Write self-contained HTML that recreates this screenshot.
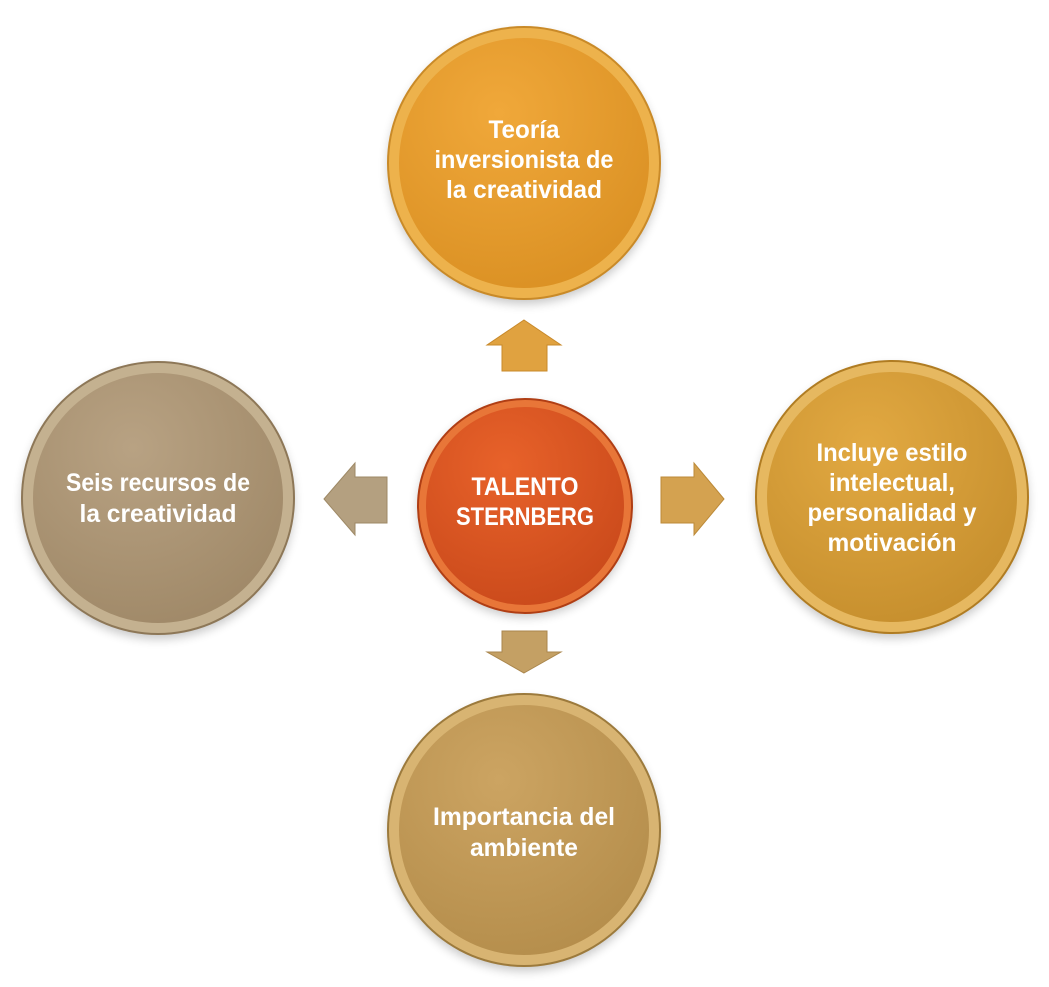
<!DOCTYPE html>
<html><head><meta charset="utf-8"><style>
html,body{margin:0;padding:0;background:#fff;}
svg{display:block;}
text{font-family:"Liberation Sans",sans-serif;font-weight:bold;fill:#fff;text-anchor:middle;dominant-baseline:central;font-size:25px;}
</style></head><body>
<svg width="1049" height="987" viewBox="0 0 1049 987" xmlns="http://www.w3.org/2000/svg">
<defs>
<filter id="sh" x="-20%" y="-20%" width="140%" height="140%"><feGaussianBlur stdDeviation="5"/></filter>
<radialGradient id="gTop" cx="0.4" cy="0.3" r="0.8"><stop offset="0" stop-color="#F0A83A"/><stop offset="1" stop-color="#D98F22"/></radialGradient>
<radialGradient id="gLeft" cx="0.4" cy="0.3" r="0.8"><stop offset="0" stop-color="#B8A283"/><stop offset="1" stop-color="#9E8766"/></radialGradient>
<radialGradient id="gRight" cx="0.4" cy="0.3" r="0.8"><stop offset="0" stop-color="#E2A942"/><stop offset="1" stop-color="#C48D2C"/></radialGradient>
<radialGradient id="gBot" cx="0.4" cy="0.3" r="0.8"><stop offset="0" stop-color="#CCA462"/><stop offset="1" stop-color="#B38C4A"/></radialGradient>
<radialGradient id="gCen" cx="0.4" cy="0.3" r="0.8"><stop offset="0" stop-color="#E8622A"/><stop offset="1" stop-color="#C8481A"/></radialGradient>
</defs>

<g fill="#000" opacity="0.22" filter="url(#sh)">
<circle cx="524" cy="168" r="136"/>
<circle cx="158" cy="503" r="136"/>
<circle cx="892" cy="502" r="136"/>
<circle cx="524" cy="835" r="136"/>
<circle cx="525" cy="510" r="107"/>
</g>

<g>
<circle cx="524" cy="163" r="137" fill="#C98A28"/>
<circle cx="524" cy="163" r="135" fill="#EDB24C"/>
<circle cx="524" cy="163" r="125" fill="url(#gTop)"/>

<circle cx="158" cy="498" r="137" fill="#8D7757"/>
<circle cx="158" cy="498" r="135" fill="#C4B190"/>
<circle cx="158" cy="498" r="125" fill="url(#gLeft)"/>

<circle cx="892" cy="497" r="137" fill="#B07C22"/>
<circle cx="892" cy="497" r="135" fill="#E6B860"/>
<circle cx="892" cy="497" r="125" fill="url(#gRight)"/>

<circle cx="524" cy="830" r="137" fill="#9C7A3C"/>
<circle cx="524" cy="830" r="135" fill="#D8B472"/>
<circle cx="524" cy="830" r="125" fill="url(#gBot)"/>

<circle cx="525" cy="506" r="108" fill="#B03E14"/>
<circle cx="525" cy="506" r="106" fill="#E87638"/>
<circle cx="525" cy="506" r="99" fill="url(#gCen)"/>
</g>

<polygon points="524,320 561,345 547,345 547,371 502,371 502,345 487,345" fill="#E0A240" stroke="#C8892A" stroke-width="1"/>
<polygon points="324,499 355,463 355,477 387,477 387,523 355,523 355,535" fill="#B4A080" stroke="#9E8966" stroke-width="1"/>
<polygon points="724,499 694,463 694,477 661,477 661,523 694,523 694,535" fill="#D4A250" stroke="#BC8A38" stroke-width="1"/>
<polygon points="524,673 561,652 547,652 547,631 502,631 502,652 487,652" fill="#C4A064" stroke="#AA864C" stroke-width="1"/>

<text x="524" y="130" textLength="71" lengthAdjust="spacingAndGlyphs">Teoría</text>
<text x="524" y="160" textLength="179" lengthAdjust="spacingAndGlyphs">inversionista de</text>
<text x="524" y="190" textLength="156" lengthAdjust="spacingAndGlyphs">la creatividad</text>

<text x="158" y="483" textLength="184" lengthAdjust="spacingAndGlyphs">Seis recursos de</text>
<text x="158" y="514" textLength="157" lengthAdjust="spacingAndGlyphs">la creatividad</text>

<text x="892" y="453" textLength="151" lengthAdjust="spacingAndGlyphs">Incluye estilo</text>
<text x="892" y="483" textLength="126" lengthAdjust="spacingAndGlyphs">intelectual,</text>
<text x="892" y="513" textLength="169" lengthAdjust="spacingAndGlyphs">personalidad y</text>
<text x="892" y="543" textLength="129" lengthAdjust="spacingAndGlyphs">motivación</text>

<text x="524" y="817" textLength="182" lengthAdjust="spacingAndGlyphs">Importancia del</text>
<text x="524" y="848" textLength="108" lengthAdjust="spacingAndGlyphs">ambiente</text>

<text x="525" y="487" textLength="107" lengthAdjust="spacingAndGlyphs">TALENTO</text>
<text x="525" y="517" textLength="138" lengthAdjust="spacingAndGlyphs">STERNBERG</text>
</svg>
</body></html>
